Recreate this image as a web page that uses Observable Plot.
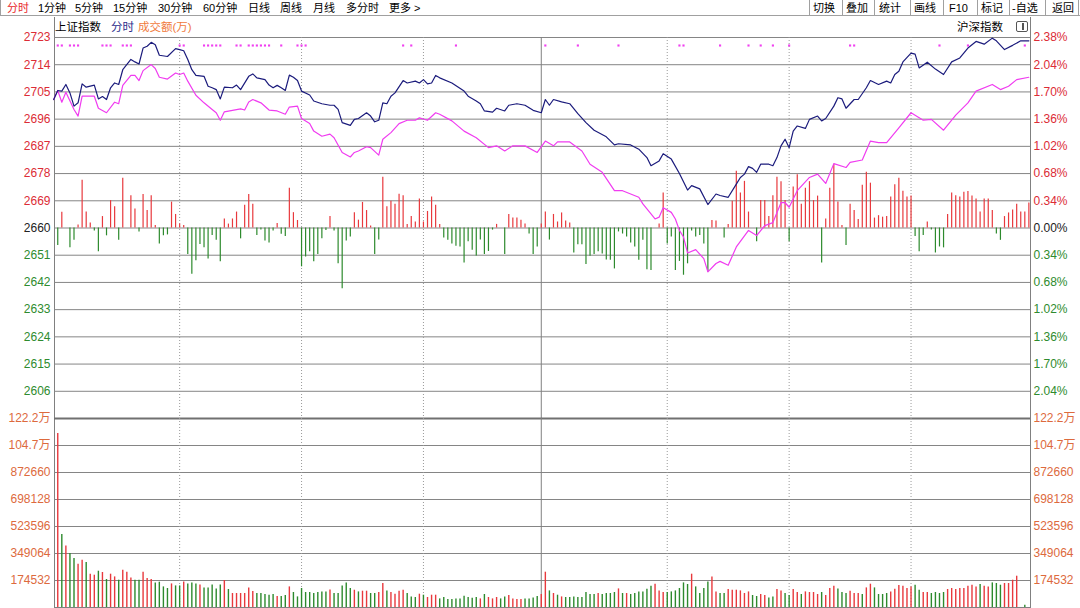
<!DOCTYPE html>
<html><head><meta charset="utf-8">
<script src="https://cdn.jsdelivr.net/npm/d3@7"></script>
<script src="https://cdn.jsdelivr.net/npm/@observablehq/plot@0.6"></script>
<style>
html,body{margin:0;padding:0;background:#fff;}
body{width:1080px;height:608px;position:relative;overflow:hidden;font-family:"Liberation Sans","Noto Sans CJK SC",sans-serif;font-size:12px;color:#000;}
.t{position:absolute;white-space:nowrap;line-height:14px;font-size:11px;}
.h{position:absolute;white-space:nowrap;line-height:14px;font-size:11.5px;}
#tb{position:absolute;left:0;top:0;width:1080px;height:16px;border-bottom:1px solid #a0a0a0;border-left:1px solid #a0a0a0;box-sizing:border-box;}
.sep{position:absolute;top:0;height:16px;width:1px;background:#a0a0a0;}
#frame{position:absolute;left:54px;top:17px;width:975px;height:591px;border-left:1px solid #808080;border-right:1px solid #808080;}
#ptop,#pbot{position:absolute;left:0;}
#ptop{top:17px;} #pbot{top:410px;}
#icon{position:absolute;left:1016px;top:21px;width:10px;height:9px;border:1px solid #555;border-radius:2px;}
#icon:after{content:"";position:absolute;left:5px;top:1px;width:2px;height:7px;background:#555;}
</style></head><body>
<div id="tb"></div>
<div id="frame"></div>
<div id="ptop"></div>
<div id="pbot"></div>
<div class="h" style="left:55px;top:20px;">上证指数</div>
<div class="h" style="left:111px;top:20px;color:#2c2c8a;">分时</div>
<div class="h" style="left:138px;top:20px;color:#f07a3c;">成交额(万)</div>
<div class="h" style="left:957px;top:20px;">沪深指数</div>
<div id="icon"></div>
<script>
// ---------- data ----------
const base = 2660;
const pctSteps = [2.38,2.04,1.70,1.36,1.02,0.68,0.34,0,-0.34,-0.68,-1.02,-1.36,-1.70,-2.04];
const priceLabels = ["2723","2714","2705","2696","2687","2678","2669","2660","2651","2642","2633","2624","2615","2606"];
const pctLabels = ["2.38%","2.04%","1.70%","1.36%","1.02%","0.68%","0.34%","0.00%","0.34%","0.68%","1.02%","1.36%","1.70%","2.04%"];
const volStep = 174532;
const volLabels = ["122.2万","104.7万","872660","698128","523596","349064","174532"];
const dottedMinutes = [30,60,90,150,180,210];
const middayMinute = [119];

const navyMin = [-1,0,1,2,3,4,5,6,7,9,10,
11,12,13,14,15,16,18,19,20,21,
22,23,24,25,27,29,30,31,32,33,
34,36,37,38,39,40,41,43,44,45,
47,48,49,51,52,53,54,55,56,57,
58,59,60,62,63,65,67,68,69,70,
72,73,74,76,77,78,79,80,81,82,
83,85,86,88,89,90,91,92,93,94,
97,100,101,103,104,105,107,108,110,111,
113,115,117,119,120,121,122,124,126,128,
130,132,135,137,138,141,143,145,146,148,
149,151,153,155,156,158,160,162,163,165,
167,168,169,170,171,172,173,175,176,177,
178,179,180,181,182,184,185,187,188,189,
191,192,193,194,196,197,199,200,202,204,
205,206,207,208,210,211,212,214,216,218,
220,222,224,226,228,230,231,233,235,237,239];
const navyVal = [2702.7,2705.7,2705.5,2707.7,2704.9,2700.5,2701.6,2707.9,2706.8,2707.5,2702.9,
2703.7,2702.7,2706.6,2708.2,2707.7,2712.6,2716.0,2715.2,2714.5,2719.8,
2720.4,2721.7,2720.9,2717.4,2717.0,2719.6,2719.3,2718.9,2716.0,2712.6,
2710.7,2710.4,2707.1,2706.6,2706.0,2702.9,2706.8,2706.6,2707.5,2706.0,
2710.4,2711.2,2709.9,2709.3,2707.5,2706.6,2707.4,2706.6,2705.7,2710.8,
2710.1,2709.0,2705.5,2704.2,2702.2,2701.3,2700.8,2700.8,2699.4,2695.0,
2694.1,2696.1,2696.4,2698.3,2697.2,2695.3,2695.8,2701.6,2701.3,2703.8,
2704.9,2709.0,2708.2,2708.8,2708.2,2709.3,2707.9,2708.2,2710.7,2709.9,
2708.2,2705.5,2703.8,2702.2,2701.3,2698.9,2698.5,2699.8,2698.9,2700.8,
2701.3,2700.8,2699.1,2698.3,2702.7,2700.8,2702.7,2701.9,2701.3,2698.0,
2695.0,2692.5,2690.3,2687.6,2688.0,2687.6,2686.2,2683.4,2680.7,2682.3,
2684.7,2682.9,2678.1,2672.6,2674.1,2673.0,2667.8,2671.3,2670.8,2670.2,
2674.6,2676.8,2677.9,2680.4,2679.8,2678.5,2681.2,2681.2,2680.7,2683.4,
2687.3,2689.5,2686.7,2692.2,2693.9,2693.1,2696.1,2697.2,2695.6,2696.4,
2700.5,2703.3,2702.9,2699.8,2702.7,2702.7,2706.6,2709.0,2707.7,2708.8,
2708.2,2711.0,2712.1,2715.2,2718.1,2717.8,2713.2,2715.1,2712.8,2711.0,
2715.2,2716.5,2719.8,2722.0,2721.1,2723.1,2722.2,2719.3,2720.7,2722.2,2722.2];

const magMin = [-1,0,1,2,4,5,6,9,10,12,
14,15,16,18,19,20,21,23,24,25,
27,29,30,31,32,34,36,38,39,40,
41,43,45,46,47,48,50,52,54,56,
57,59,60,62,63,65,67,68,70,72,
73,74,76,77,79,80,82,84,86,88,
89,91,93,94,97,100,103,106,108,110,
112,115,118,120,122,123,126,129,131,134,
137,139,143,144,147,148,149,151,152,153,
154,155,157,159,160,162,163,165,167,170,
172,174,176,178,179,180,182,185,187,189,
191,194,195,198,200,202,204,207,210,213,
215,218,221,224,226,230,232,234,236,239];
const magVal = [2702.7,2705.7,2701.8,2705.1,2699.4,2697.2,2703.8,2703.8,2699.8,2698.3,
2701.8,2701.3,2707.4,2710.7,2710.7,2709.0,2712.3,2714.3,2713.0,2710.1,
2709.5,2711.5,2711.0,2711.5,2708.8,2704.1,2701.6,2699.4,2698.3,2695.8,
2698.6,2699.1,2699.6,2699.2,2701.9,2702.7,2701.6,2699.2,2698.9,2697.8,
2700.2,2700.5,2696.4,2694.7,2692.2,2690.5,2691.2,2690.0,2685.1,2683.6,
2685.1,2685.6,2687.0,2686.7,2684.2,2689.5,2691.7,2694.7,2695.8,2695.8,
2696.6,2695.8,2698.3,2697.8,2695.6,2692.2,2690.0,2686.7,2687.3,2685.6,
2687.3,2687.3,2685.1,2688.9,2687.3,2688.6,2688.6,2685.6,2681.2,2678.5,
2672.4,2672.4,2670.2,2668.0,2663.0,2663.6,2666.7,2665.2,2663.0,2659.2,
2657.0,2651.7,2652.8,2649.8,2645.4,2648.2,2648.9,2647.6,2653.7,2659.2,
2657.5,2660.8,2661.8,2668.4,2668.4,2666.9,2672.4,2676.8,2677.9,2674.8,
2681.4,2680.1,2681.8,2682.6,2688.9,2688.4,2688.4,2693.3,2698.3,2695.8,
2696.1,2692.5,2697.5,2701.6,2705.5,2707.7,2706.0,2707.1,2709.3,2710.1];

// strength bars (index points above/below 2660), one per minute 0..239
const strength = [
-5.8,5.2,0,-6.6,-4.1,1.0,15.9,5.3,1.7,-1.0,
-7.9,3.8,-2.6,9.1,7.1,-4.1,16.5,0,10.7,6.3,
-1.3,11.1,5.8,10.7,0.8,-5.3,-2.6,-2.3,8.6,4.5,
1.3,0.8,-8.8,-15.4,-10.9,-5.5,-6.6,-10.3,-2.5,-4.1,
-11.2,3.0,1.3,3.0,5.3,-3.6,7.6,11.1,7.9,-2.5,
-0.7,-4.3,-5.0,-1.0,1.5,-2.1,-2.8,13.2,5.1,2.5,
-12.9,-9.6,-7.9,-11.2,-8.8,-3.6,-0.8,3.8,-1.0,-11.9,
-20.2,-4.3,-3.0,5.1,2.6,8.5,5.8,0.7,-8.8,-4.0,
16.9,7.1,8.9,7.9,11.2,10.7,1.2,3.8,2.0,9.6,
2.0,5.5,10.3,7.6,1.2,-3.3,-4.1,-5.3,-6.1,-6.3,
-11.6,-4.6,-7.4,-9.3,-4.0,-8.8,-7.8,-0.7,1.2,0,
-8.8,4.5,3.3,3.3,2.6,1.3,-2.0,-8.8,-6.3,1.3,
5.3,-4.0,4.5,2.0,5.0,2.3,1.7,-8.3,-5.6,-5.6,
-12.1,-9.4,-8.8,-7.9,-8.6,-10.6,-10.7,-13.6,-1.3,-2.0,
-3.0,-5.0,-6.3,-10.7,-4.1,-13.9,-14.1,0,1.3,11.6,
-5.3,-3.0,-14.1,-11.1,-15.7,-11.9,-1.0,-3.0,-2.5,-5.3,
-14.6,2.5,2.3,0,-3.3,1.2,8.9,18.9,11.6,15.5,
5.3,0,-4.6,9.1,9.1,3.8,10.7,16.9,15.4,9.1,
-4.6,13.6,17.7,7.9,13.2,15.4,9.1,10.6,-11.6,3.0,
13.2,21.2,8.6,0.8,-5.8,7.9,5.8,2.8,14.2,18.5,
14.9,3.3,4.1,3.6,3.8,10.3,14.4,16.5,12.2,10.3,
10.6,-2.8,-7.9,-2.5,2.0,-0.7,-8.3,-6.3,-6.6,4.5,
11.6,10.7,10.3,11.9,12.1,10.6,9.6,5.3,9.6,9.6,
5.8,-2.0,-4.1,3.8,5.0,6.0,7.9,5.3,5.3,8.3];

const markerMinutes = [0,1,3,4,5,11,12,13,16,17,18,30,31,36,37,38,39,40,44,45,47,48,49,50,51,52,55,59,60,61,85,87,98,120,128,138,153,154,163,170,173,176,180,195,196,217,224,238];

const volume = [
1124700,471900,398200,349100,316700,279900,305700,290900,215300,208800,
234600,226200,181000,215300,197800,176500,241100,228200,191300,176500,
176500,228200,187500,181000,159000,163500,133200,122800,152500,139600,
139600,165500,152500,159000,152500,146100,126700,126700,146100,120200,
146100,174500,116400,90500,90500,90500,90500,126700,103400,90500,
90500,84000,79500,84000,71100,71100,77600,133200,97000,68500,
122800,97000,97000,90500,97000,100800,100800,113800,90500,90500,
139600,159000,122800,111800,100800,
105400,105400,90500,90500,97000,155100,107300,97000,86000,105400,
111800,90500,68500,64600,86000,79500,64600,79500,79500,55600,
64600,51700,51700,55600,55600,73000,64600,60100,64600,55600,
84000,64600,55600,64600,55600,68500,77600,55600,51700,51700,
55600,55600,62100,71100,84000,228200,107300,90500,79500,68500,
64600,64600,68500,64600,64600,97000,84000,84000,90500,84000,
90500,90500,97000,120200,90500,90500,84000,90500,100800,100800,
118300,137700,150600,107300,97000,97000,100800,107300,122800,159000,
148700,215300,133200,90500,122800,165500,197800,100800,
90500,90500,116400,111800,111800,107300,90500,100800,77600,71100,
84000,77600,62100,68500,116400,107300,90500,77600,116400,97000,
84000,100800,97000,97000,84000,97000,77600,122800,137700,120200,
97000,90500,105400,90500,90500,84000,126700,150600,126700,84000,
84000,90500,100800,118300,142200,137700,122800,133200,144100,111800,
97000,97000,90500,97000,90500,97000,116400,122800,116400,122800,
122800,137700,144100,133200,148700,137700,133200,159000,155100,144100,
155100,155100,176500,202300,
0,15000];
const volDir =
"RGRGGRRGRR"+"GRGRRGRRRG"+"GRRRGGGGRG"+"GRGGGRGGGG"+"GRGRRRRRRG"+"GGGGRGGRGG"+"GGGGGGGRGG"+"GGGRG"+
"RRGGRRGRRR"+"RGGGRGRRRG"+"GGGGGGGGGR"+"GRRRGGRRRR"+"GGGGRRGRGR"+"GGGGGGGGRG"+"GGGRGRGGGG"+"GGRRRGGGGG"+"GRGGGGRR"+
"GGRRRRRRGG"+"RRGGRRGGRR"+"GRRRRGRRRG"+"GGRRRGRRGG"+"GGRRRRRRGG"+"RRGGGGRRRR"+"RRRRGRRGGG"+"RRRR"+
"GG";

const tbItems = ["分时","1分钟","5分钟","15分钟","30分钟","60分钟","日线","周线","月线","多分时","更多 >"];
const tbBtns = ["切换","叠加","统计","画线","F10","标记","-自选","返回"];

// ---------- toolbar ----------
const tb = document.getElementById("tb");
const tbX = [6,37,74,112,157,202,247,279,312,345,388];
tbItems.forEach((s,i)=>{const d=document.createElement("div");d.className="t";d.style.left=tbX[i]+"px";d.style.top="1px";if(i===0)d.style.color="#e8262a";d.textContent=s;tb.appendChild(d);});
const btnX = [812,845,878,913,948,980,1011,1051];
const sepX = [808,841,873,909,942,976,1008,1044,1077];
tbBtns.forEach((s,i)=>{const d=document.createElement("div");d.className="t";d.style.left=btnX[i]+"px";d.style.top="1px";d.textContent=s;tb.appendChild(d);});
sepX.forEach(x=>{const d=document.createElement("div");d.className="sep";d.style.left=x+"px";tb.appendChild(d);});

// ---------- tables ----------
const UP="#dc2c36", DN="#2e8b2e", FLAT="#222222", VOLC="#dd6a3d";
const BARUP="#e8393d", BARDN="#2d8a2d";
const GRID="#858585";
const priceTicks = pctSteps.map((p,i)=>({y: base*(1+p/100), left: priceLabels[i], right: pctLabels[i], s: Math.sign(p)}));
const volTicks = volLabels.map((t,i)=>({y: volStep*(volLabels.length-i), t}));
const navy = navyMin.map((m,i)=>({m, p: navyVal[i]}));
const mag = magMin.map((m,i)=>({m, p: magVal[i]}));
const strengthData = strength.map((v,m)=>({m,v})).filter(d=>d.v!==0);
const volData = volume.map((v,m)=>({m, v, up: volDir[m]==="R"})).filter(d=>d.v>0);

const xDomain = [-0.8, 239.4];
const font = "Liberation Sans, Noto Sans CJK SC, sans-serif";
const tickColor = d => d.s>0?UP:(d.s<0?DN:FLAT);

const topPlot = Plot.plot({
  width:1080, height:402, marginLeft:54, marginRight:50, marginTop:20, marginBottom:1,
  x:{domain:xDomain, axis:null},
  y:{domain:[base*(1-0.0238), base*(1+0.0238)], axis:null},
  color:{type:"identity"},
  style:{background:"transparent", fontFamily:font, fontSize:"12px", overflow:"visible"},
  marks:[
    Plot.ruleY(priceTicks, {y:"y", stroke:GRID, strokeWidth:1}),
    Plot.ruleX(dottedMinutes, {stroke:"#9a9a9a", strokeDasharray:"1,2"}),
    Plot.ruleX(middayMinute, {stroke:"#808080"}),
    Plot.ruleX(strengthData, {x:"m", y1:base, y2:d=>base+d.v, stroke:d=>d.v>0?BARUP:BARDN, strokeWidth:1.2}),
    Plot.line(mag, {x:"m", y:"p", stroke:"#f03cf0", strokeWidth:1.2}),
    Plot.line(navy, {x:"m", y:"p", stroke:"#1b1b7c", strokeWidth:1.2}),
    Plot.dot(markerMinutes, {x:d=>d, frameAnchor:"top", dy:8, symbol:"square", r:1.2, fill:"#f040f0", stroke:null}),
    Plot.text(priceTicks, {y:"y", text:"left", frameAnchor:"left", textAnchor:"end", dx:-4, fill:tickColor, fontSize:12}),
    Plot.text(priceTicks, {y:"y", text:"right", frameAnchor:"right", textAnchor:"start", dx:3, fill:tickColor, fontSize:12})
  ]
});
document.getElementById("ptop").appendChild(topPlot);

const botPlot = Plot.plot({
  width:1080, height:198, marginLeft:54, marginRight:50, marginTop:8, marginBottom:1,
  x:{domain:xDomain, axis:null},
  y:{domain:[0, volStep*volLabels.length], axis:null},
  color:{type:"identity"},
  style:{background:"transparent", fontFamily:font, fontSize:"12px", overflow:"visible"},
  marks:[
    Plot.ruleY(volTicks.slice(1), {y:"y", stroke:GRID}),
    Plot.ruleY(volTicks.slice(0,1), {y:"y", stroke:"#707070", strokeWidth:2}),
    Plot.ruleY([0], {stroke:"#808080"}),
    Plot.ruleX(dottedMinutes, {stroke:"#9a9a9a", strokeDasharray:"1,2"}),
    Plot.ruleX(middayMinute, {stroke:"#808080"}),
    Plot.ruleX(volData, {x:"m", y1:0, y2:"v", stroke:d=>d.up?BARUP:BARDN, strokeWidth:1.4}),
    Plot.text(volTicks, {y:"y", text:"t", frameAnchor:"left", textAnchor:"end", dx:-4, fill:VOLC, fontSize:12}),
    Plot.text(volTicks, {y:"y", text:"t", frameAnchor:"right", textAnchor:"start", dx:3, fill:VOLC, fontSize:12})
  ]
});
document.getElementById("pbot").appendChild(botPlot);
</script>
</body></html>
